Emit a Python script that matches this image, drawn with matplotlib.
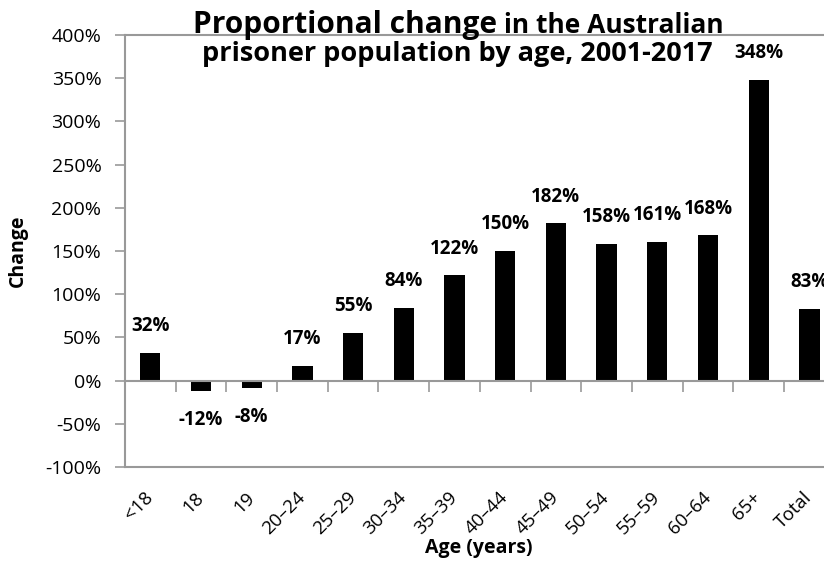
"""
Proportional change in the Australian prisoner population by age.
"""

import numpy as np
import matplotlib
matplotlib.use("Agg")
import matplotlib.pyplot as plt


ages = ["<18", "18", "19", "20–24", "25–29", "30–34", "35–39",
        "40–44", "45–49", "50–54", "55–59", "60–64", "65+", "Total"]

change = [32, -12, -8, 17, 55, 84, 122, 150, 182, 158, 161, 168, 348, 83]

y_ticks = list(range(-100, 401, 50))


plt.rcParams["font.family"] = ["Open Sans", "DejaVu Sans"]

grey = "#999999"
rect = [0.1517, 0.1705, 0.8613, 0.7673]

fig = plt.figure(figsize=(8.24, 5.63), dpi=100)

ax = fig.add_axes(rect)

x = np.arange(len(ages))

ax.bar(x, change, width=0.4, color="black")

ax.set_xlim(-0.5, len(ages) - 0.5)
ax.set_ylim(-100, 400)

ax.set_yticks(y_ticks)
ax.set_yticklabels([f"{v}%" for v in y_ticks], fontsize=14)

ax.set_xticks(x)
ax.set_xticklabels(ages, fontsize=13.5, rotation=45,
                   ha="right", va="center", rotation_mode="anchor")

ax.tick_params(axis="x", length=0, pad=20)
ax.tick_params(axis="y", length=7, width=1.2, color=grey, pad=10)

for s in ax.spines.values():
    s.set_color(grey)
    s.set_linewidth(1.5)


# category axis at zero, ticks between the bars
ax0 = fig.add_axes(rect, facecolor="none", zorder=2)
ax0.set_xlim(ax.get_xlim())
ax0.set_ylim(ax.get_ylim())
for side in ["top", "left", "right"]:
    ax0.spines[side].set_visible(False)
ax0.spines["bottom"].set_position(("data", 0))
ax0.spines["bottom"].set_color(grey)
ax0.spines["bottom"].set_linewidth(1.5)
ax0.set_xticks(x[:-1] + 0.5)
ax0.set_yticks([])
ax0.tick_params(axis="x", length=8, width=1.2, color=grey,
                labelbottom=False)


for xi, v in zip(x, change):

    if v >= 0:
        ax.annotate(f"{v}%", (xi, v), xytext=(0, 12),
                    textcoords="offset points",
                    ha="center", va="bottom",
                    fontsize=13.5, fontweight="bold")
    else:
        ax.annotate(f"{v}%", (xi, v), xytext=(0, -14),
                    textcoords="offset points",
                    ha="center", va="top",
                    fontsize=13.5, fontweight="bold")


fig.text(18 / 824, 0.554, "Change", fontsize=14, fontweight="bold",
         rotation=90, ha="center", va="center")

fig.text(479 / 824, 10 / 563, "Age (years)", fontsize=14,
         fontweight="bold", ha="center", va="baseline")


t1 = fig.text(193 / 824, 1 - 33 / 563, "Proportional change",
              fontsize=21.5, fontweight="bold", ha="left", va="baseline")

ax.annotate(" in the Australian", xy=(1, 1 - 33 / 563),
            xycoords=(t1, "figure fraction"),
            fontsize=19, fontweight="bold",
            ha="left", va="baseline")

fig.text(457 / 824, 1 - 61 / 563, "prisoner population by age, 2001-2017",
         fontsize=19.5, fontweight="bold", ha="center", va="baseline")


plt.savefig("out.png", dpi=100)
